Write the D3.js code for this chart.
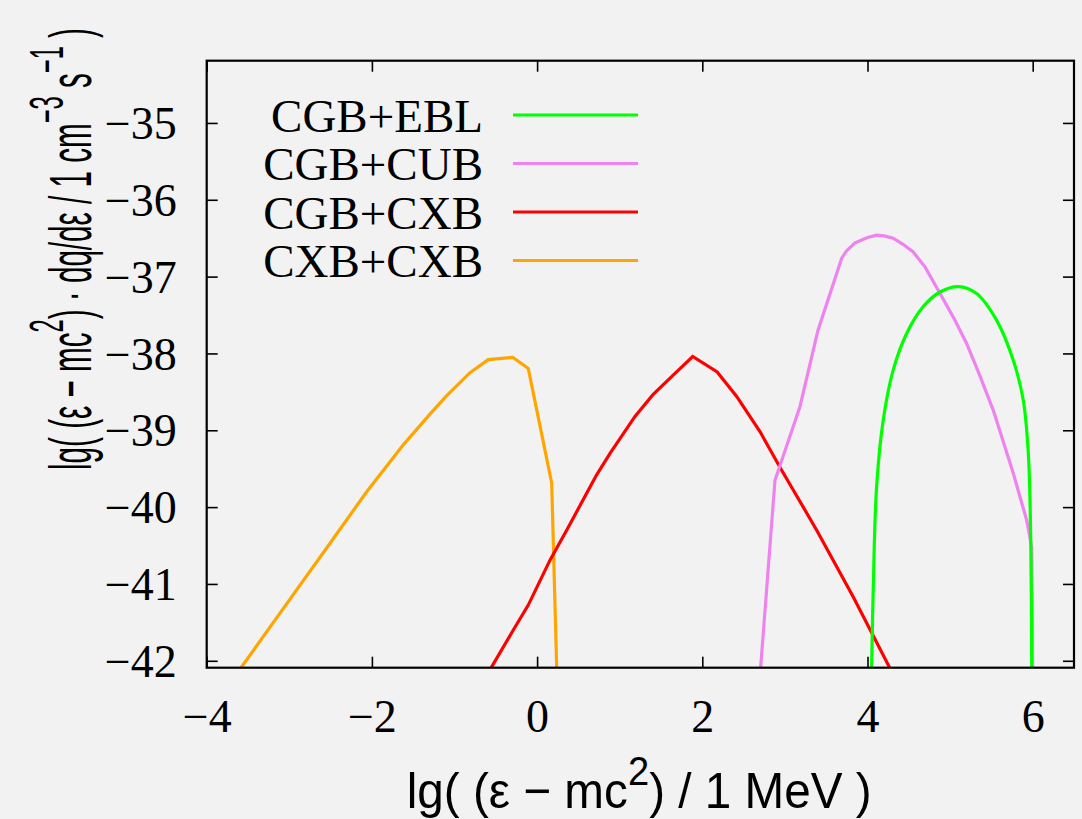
<!DOCTYPE html>
<html>
<head>
<meta charset="utf-8">
<script src="https://cdn.jsdelivr.net/npm/d3@7"></script>
<style>
  html, body { margin: 0; padding: 0; background: #f2f2f2; }
  svg { display: block; }
</style>
</head>
<body>
<svg id="chart" width="1082" height="819"></svg>
<script>
// ---- data ----
const seriesNames = ["CGB+EBL", "CGB+CUB", "CGB+CXB", "CXB+CXB"];
const seriesColors = ["#00ff00", "#ee82ee", "#ff0000", "#ffa500"];

const ebl_x = [4.045, 4.05, 4.07, 4.11, 4.19, 4.31, 4.474, 4.675, 4.878, 5.10, 5.32, 5.564, 5.765, 5.886, 5.947, 5.976, 5.988, 5.99];
const ebl_y = [-42.3, -42.08, -41.04, -39.74, -38.87, -38.22, -37.74, -37.39, -37.20, -37.13, -37.22, -37.57, -38.09, -38.61, -39.30, -40.39, -42.08, -42.3];

const cub_x = [2.69, 2.707, 2.88, 3.183, 3.40, 3.688, 3.75, 3.85, 4.0, 4.111, 4.2, 4.31, 4.43, 4.554, 4.7, 4.878, 5.05, 5.20, 5.36, 5.523, 5.765, 5.927, 5.988, 6.0, 6.0];
const cub_y = [-42.3, -42.08, -39.65, -38.69, -37.70, -36.76, -36.66, -36.56, -36.49, -36.46, -36.47, -36.50, -36.58, -36.68, -36.88, -37.22, -37.55, -37.87, -38.29, -38.74, -39.56, -40.17, -40.52, -42.08, -42.3];

const cxb_x = [-0.65, -0.55, -0.288, -0.107, 0.156, 0.358, 0.721, 0.883, 1.185, 1.40, 1.67, 1.884, 2.18, 2.416, 2.70, 2.94, 3.385, 3.828, 4.264, 4.35];
const cxb_y = [-42.26, -42.08, -41.60, -41.275, -40.69, -40.30, -39.58, -39.30, -38.82, -38.54, -38.26, -38.04, -38.24, -38.56, -39.02, -39.48, -40.30, -41.17, -42.08, -42.26];

const xx_x = [-3.7, -3.576, -3.0, -2.5, -2.063, -1.62, -1.297, -1.094, -0.812, -0.591, -0.295, -0.107, 0.177, 0.237, 0.24];
const xx_y = [-42.265, -42.078, -41.21, -40.46, -39.80, -39.19, -38.79, -38.55, -38.25, -38.08, -38.05, -38.195, -39.69, -42.08, -42.3];

const xTicks = [-4, -2, 0, 2, 4, 6];
const yTicks = [-42, -41, -40, -39, -38, -37, -36, -35];

// ---- layout ----
const svg = d3.select("#chart");
const L = 206.7, R = 1074, T = 60.7, B = 667.7;
const x = d3.scaleLinear().domain([-4, 6.5]).range([L, R]);
const y = d3.scaleLinear().domain([-42.09, -34.19]).range([B, T]);

svg.append("rect").attr("width", 1082).attr("height", 819).attr("fill", "#f2f2f2");

svg.append("defs").append("clipPath").attr("id", "plotclip")
  .append("rect").attr("x", L).attr("y", T).attr("width", R - L).attr("height", B - T);

const serif = "'Liberation Serif', 'Times New Roman', serif";
const sans = "'Liberation Sans', Arial, sans-serif";

// axes (ticks inward, mirrored)
const tickLen = 11;
function styleAxis(g) {
  g.select(".domain").remove();
  g.selectAll(".tick line").attr("stroke", "#000").attr("stroke-width", 1.6);
  g.selectAll(".tick text").attr("font-family", serif).attr("font-size", 46).attr("fill", "#000");
}
const fmt = d => d < 0 ? "\u2212" + Math.abs(d) : String(d);

svg.append("g").attr("transform", `translate(0,${B})`)
  .call(d3.axisBottom(x).tickValues(xTicks).tickSize(-tickLen).tickPadding(0).tickFormat(fmt))
  .call(styleAxis)
  .call(g => g.selectAll(".tick text").attr("y", 64).attr("dy", 0));

svg.append("g").attr("transform", `translate(0,${T})`)
  .call(d3.axisTop(x).tickValues(xTicks).tickSize(-tickLen).tickFormat(""))
  .call(styleAxis);

svg.append("g").attr("transform", `translate(${L},0)`)
  .call(d3.axisLeft(y).tickValues(yTicks).tickSize(-tickLen).tickFormat(fmt))
  .call(styleAxis)
  .call(g => g.selectAll(".tick text").attr("x", -30).attr("dy", "0.34em").attr("text-anchor", "end"));

svg.append("g").attr("transform", `translate(${R},0)`)
  .call(d3.axisRight(y).tickValues(yTicks).tickSize(-tickLen).tickFormat(""))
  .call(styleAxis);

// data lines
const seriesData = [
  { name: seriesNames[0], color: seriesColors[0], xs: ebl_x, ys: ebl_y, smooth: true },
  { name: seriesNames[1], color: seriesColors[1], xs: cub_x, ys: cub_y, smooth: false },
  { name: seriesNames[2], color: seriesColors[2], xs: cxb_x, ys: cxb_y, smooth: false },
  { name: seriesNames[3], color: seriesColors[3], xs: xx_x, ys: xx_y, smooth: false }
];

const plot = svg.append("g").attr("clip-path", "url(#plotclip)");
[3, 2, 1, 0].forEach(i => {
  const s = seriesData[i];
  const pts = s.xs.map((v, k) => [v, s.ys[k]]);
  const line = d3.line().x(d => x(d[0])).y(d => y(d[1]))
    .curve(s.smooth ? d3.curveCatmullRom.alpha(0.5) : d3.curveLinear);
  plot.append("path").datum(pts)
    .attr("d", line)
    .attr("fill", "none")
    .attr("stroke", s.color)
    .attr("stroke-width", 3.2)
    .attr("stroke-linejoin", "miter");
});

// frame
svg.append("rect").attr("x", L).attr("y", T).attr("width", R - L).attr("height", B - T)
  .attr("fill", "none").attr("stroke", "#000").attr("stroke-width", 2.2);

// legend
const legRowY = [115, 163.5, 212, 260.5];
const leg = svg.append("g");
seriesData.forEach((s, i) => {
  leg.append("text").attr("x", 483).attr("y", legRowY[i] + 16.5)
    .attr("text-anchor", "end").attr("font-family", serif).attr("font-size", 47)
    .attr("fill", "#000").text(s.name);
  leg.append("line").attr("x1", 513).attr("x2", 638)
    .attr("y1", legRowY[i]).attr("y2", legRowY[i])
    .attr("stroke", s.color).attr("stroke-width", 3.2);
});

// axis titles
function addLabel(parentTransform, parts, targetLen, fs) {
  const g = svg.append("g").attr("transform", parentTransform);
  const t = g.append("text").attr("font-family", sans).attr("font-size", fs).attr("fill", "#000");
  const rise = Math.round(fs * 0.46);
  let pending = 0;
  parts.forEach(p => {
    if (p.sup) {
      t.append("tspan").attr("font-size", Math.round(fs * 0.8)).attr("dy", -rise - pending).text(p.t);
      pending = -rise;
    } else {
      t.append("tspan").attr("dy", -pending).text(p.t);
      pending = 0;
    }
  });
  const w = t.node().getBBox().width;
  t.attr("transform", `scale(${targetLen / w},1)`);
}

addLabel("translate(406.7,808)", [
  { t: "lg( (\u03b5 \u2212 mc" }, { t: "2", sup: true }, { t: ") / 1 MeV )" }
], 465, 50);

addLabel("translate(91,470) rotate(-90)", [
  { t: "lg( (\u03b5 \u2212 mc" }, { t: "2", sup: true },
  { t: ") \u00b7 dq/d\u03b5 / 1 cm" }, { t: "\u22123", sup: true },
  { t: " s" }, { t: "\u22121", sup: true }, { t: " )" }
], 442, 60);
</script>
</body>
</html>
